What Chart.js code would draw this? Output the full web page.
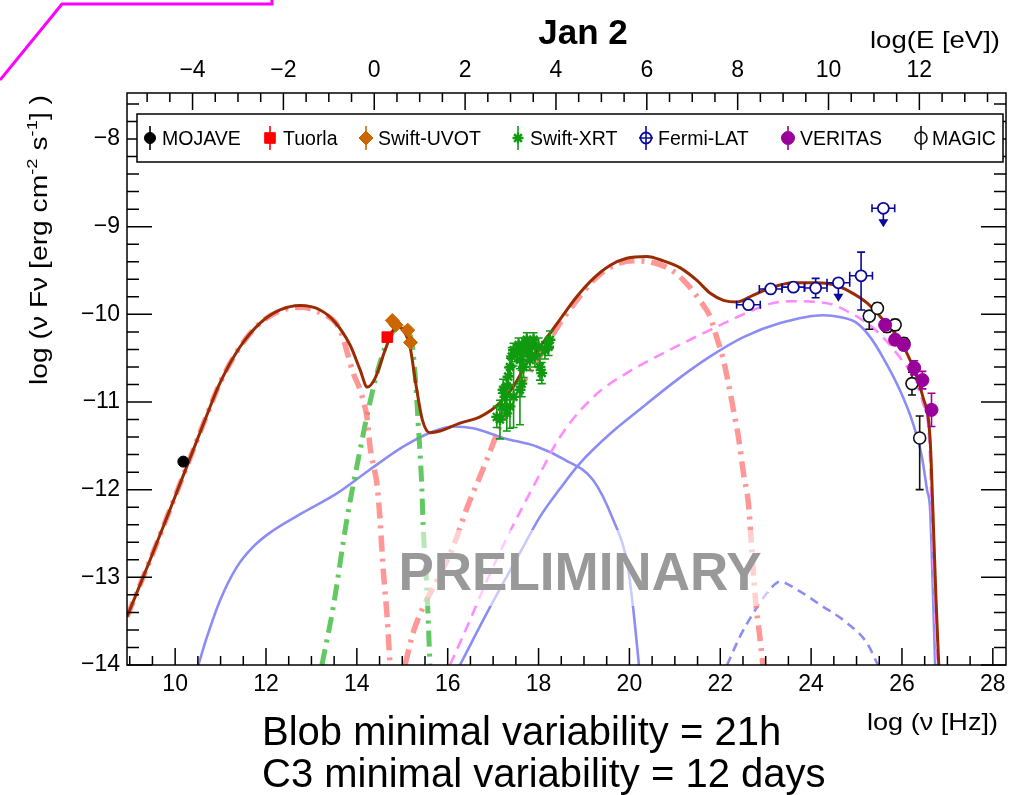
<!DOCTYPE html>
<html>
<head>
<meta charset="utf-8">
<script src="https://cdn.jsdelivr.net/npm/chart.js@4/dist/chart.umd.min.js"></script>
<style>
  html, body { margin: 0; padding: 0; background: #fff; }
</style>
</head>
<body>
<canvas id="sed" width="1017" height="795" style="width:1017px;height:795px"></canvas>
<script>
// axis ranges: log(nu [Hz]) and log(nu F nu)
const xMin = 8.94, xMax = 28.29, yMin = -14, yMax = -7.475;
const hzPerEv = 14.383;   // log(nu) = log(E[eV]) + 14.383
const xTicks = [10, 12, 14, 16, 18, 20, 22, 24, 26, 28];
const eTicks = [-4, -2, 0, 2, 4, 6, 8, 10, 12];
const yTicks = [-14, -13, -12, -11, -10, -9, -8];

// ---- measured points ----
const mojaveX = [10.18];
const mojaveY = [-11.68];
const mojaveErr = [0.02];

const tuorlaX = [14.67];
const tuorlaY = [-10.26];
const tuorlaErr = [0.03];

const uvotX = [14.78, 14.86, 15.12, 15.18];
const uvotY = [-10.07, -10.12, -10.18, -10.32];
const uvotErr = [0.03, 0.03, 0.03, 0.03];

const xrtX = [17.08, 17.15, 17.19, 17.22, 17.26, 17.30, 17.30, 17.33, 17.37, 17.37, 17.41, 17.45, 17.45, 17.52, 17.56, 17.59, 17.59,
  17.63, 17.63, 17.67, 17.70, 17.74, 17.78, 17.81, 17.85, 17.89, 17.92, 18.00, 18.03, 18.07, 18.14, 18.22, 18.25];
const xrtY = [-11.17, -11.20, -11.05, -10.86, -10.94, -10.82, -11.13, -10.71, -10.60, -11.05, -10.48, -10.41, -10.94, -10.44, -10.35, -10.52, -10.86,
  -10.41, -10.79, -10.60, -10.37, -10.29, -10.44, -10.52, -10.37, -10.29, -10.48, -10.37, -10.60, -10.67, -10.41, -10.37, -10.29];
const xrtErr = [0.12, 0.22, 0.15, 0.12, 0.14, 0.1, 0.2, 0.1, 0.1, 0.25, 0.1, 0.08, 0.35, 0.1, 0.08, 0.1, 0.4,
  0.1, 0.15, 0.12, 0.1, 0.08, 0.1, 0.12, 0.1, 0.08, 0.12, 0.1, 0.15, 0.12, 0.1, 0.1, 0.1];

const fermiX = [22.62, 23.11, 23.61, 24.10, 24.60, 25.10, 25.59];
const fermiY = [-9.89, -9.71, -9.69, -9.70, -9.64, -9.56, -8.79];
const fermiXErr = [0.26, 0.25, 0.25, 0.25, 0.25, 0.25, 0.25];
const fermiLo = [0.02, 0.03, 0.03, 0.11, 0, 0.39, 0];
const fermiHi = [0.02, 0.03, 0.03, 0.11, 0, 0.27, 0];
const fermiUL = [false, false, false, false, true, false, true];

const veritasX = [25.63, 25.85, 26.04, 26.27, 26.45, 26.65];
const veritasY = [-10.12, -10.29, -10.35, -10.61, -10.75, -11.09];
const veritasErr = [0.06, 0.06, 0.06, 0.08, 0.1, 0.19];

const magicX = [25.28, 25.46, 25.67, 25.85, 26.04, 26.22, 26.39];
const magicY = [-10.02, -9.93, -10.14, -10.12, -10.33, -10.79, -11.41];
const magicLo = [0.15, 0.06, 0.06, 0.06, 0.06, 0.13, 0.59];
const magicHi = [0.06, 0.06, 0.06, 0.06, 0.06, 0.13, 0.25];

// ---- model curves ----
const totalX = [8.94, 9.45, 10.02, 10.66, 10.99, 11.43, 11.87, 12.31, 12.75, 13.19, 13.52, 13.85, 14.07, 14.23, 14.40, 14.62, 14.78, 14.89,
  15.02, 15.17, 15.30, 15.44, 15.61, 15.83, 16.27, 16.71, 17.15, 17.45, 17.74, 18.03, 18.47, 18.84, 19.21, 19.58, 19.94, 20.38, 20.75,
  21.12, 21.48, 21.78, 22.07, 22.36, 22.73, 23.10, 23.60, 24.13, 24.48, 24.85, 25.23, 25.58, 25.95, 26.24, 26.46, 26.62, 26.68, 26.75, 26.81];
const totalY = [-13.45, -12.80, -12.05, -11.20, -10.78, -10.37, -10.10, -9.95, -9.90, -9.95, -10.09, -10.35, -10.63, -10.83, -10.73, -10.41, -10.20, -10.14,
  -10.18, -10.37, -10.80, -11.20, -11.35, -11.33, -11.24, -11.17, -11.01, -10.82, -10.56, -10.37, -10.06, -9.80, -9.59, -9.44, -9.36, -9.34, -9.39,
  -9.47, -9.61, -9.76, -9.84, -9.86, -9.78, -9.70, -9.64, -9.64, -9.66, -9.74, -9.87, -10.06, -10.29, -10.60, -10.94, -11.43, -12.23, -13.26, -14.0];

const syncX = [8.94, 9.45, 10.02, 10.66, 10.99, 11.43, 11.87, 12.31, 12.75, 13.19, 13.63, 13.92, 14.07, 14.18, 14.23, 14.29, 14.45, 14.51, 14.58, 14.67, 14.73];
const syncY = [-13.45, -12.80, -12.05, -11.20, -10.78, -10.37, -10.10, -9.96, -9.92, -9.98, -10.18, -10.67, -10.86, -11.06, -11.20, -11.51, -11.97, -12.34, -12.91, -13.48, -14.0];

const diskX = [13.23, 13.48, 13.78, 14.07, 14.29, 14.51, 14.73, 14.95, 15.10, 15.21, 15.28, 15.35, 15.43, 15.46, 15.54, 15.61];
const diskY = [-14.0, -13.34, -12.34, -11.55, -11.0, -10.55, -10.25, -10.15, -10.18, -10.32, -10.67, -11.24, -11.97, -12.42, -13.11, -14.0];

const sscX = [15.06, 15.24, 15.46, 15.77, 16.12, 16.43, 16.71, 16.86, 17.15, 17.45, 17.74, 18.03, 18.47, 18.84, 19.21, 19.58, 20.09, 20.60,
  20.97, 21.26, 21.55, 21.78, 21.92, 22.07, 22.18, 22.29, 22.40, 22.51, 22.62, 22.69, 22.77, 22.88, 22.94];
const sscY = [-14.0, -13.63, -13.34, -13.03, -12.65, -12.20, -11.85, -11.66, -11.28, -10.98, -10.71, -10.48, -10.10, -9.84, -9.61, -9.46, -9.39, -9.42,
  -9.51, -9.65, -9.84, -10.03, -10.26, -10.52, -10.79, -11.09, -11.40, -11.81, -12.16, -12.65, -13.22, -13.72, -14.0];

const ecX = [16.05, 16.43, 16.87, 17.31, 17.96, 18.47, 19.21, 19.94, 20.68, 21.41, 21.85, 22.29, 22.73, 23.17, 23.60, 24.13, 24.48,
  24.85, 25.23, 25.58, 25.95, 26.24, 26.46, 26.60, 26.66, 26.72, 26.77];
const ecY = [-14.0, -13.56, -13.03, -12.54, -11.89, -11.40, -10.94, -10.67, -10.46, -10.27, -10.16, -10.05, -9.95, -9.87, -9.85, -9.86, -9.89,
  -9.98, -10.10, -10.26, -10.49, -10.71, -11.01, -11.43, -12.34, -13.26, -14.0];

const c3SynX = [10.51, 10.70, 10.99, 11.36, 11.72, 12.09, 12.82, 13.57, 14.29, 15.02, 15.61, 16.12, 16.56, 17.22, 17.97, 18.58, 19.20, 19.64, 19.95, 20.08, 20.21];
const c3SynY = [-14.0, -13.68, -13.26, -12.88, -12.65, -12.49, -12.26, -12.04, -11.77, -11.51, -11.35, -11.28, -11.30, -11.41, -11.51, -11.66, -11.89, -12.34, -12.83, -13.34, -14.0];

const c3IcX = [16.27, 16.87, 17.59, 18.03, 18.47, 18.91, 19.58, 20.31, 21.04, 21.78, 22.51, 23.32, 24.26, 24.63, 25.01,
  25.30, 25.58, 25.95, 26.24, 26.44, 26.55, 26.62, 26.68, 26.73];
const c3IcY = [-14.0, -13.40, -12.72, -12.31, -11.99, -11.70, -11.36, -11.05, -10.75, -10.48, -10.26, -10.10, -10.01, -10.03, -10.10,
  -10.26, -10.49, -10.86, -11.24, -11.63, -12.00, -12.23, -13.14, -14.0];

const c3EcX = [22.15, 22.43, 22.81, 23.14, 23.31, 23.69, 24.19, 24.79, 25.23, 25.47];
const c3EcY = [-14.0, -13.68, -13.34, -13.11, -13.05, -13.14, -13.31, -13.52, -13.75, -14.0];

// legend layout (marker x, text x) in pixels
const legendMarkX = [150, 270, 366, 518, 646, 788, 921];
const legendTextX = [162, 283, 378, 530, 658, 800, 932];

function pts(xs, ys) {
  return xs.map(function (x, i) { return { x: x, y: ys[i] }; });
}
function fmt(v) {
  return v < 0 ? '\u2212' + (-v) : String(v);
}

var FONT = '"Liberation Sans", Arial, Helvetica, sans-serif';
var dashDot = [16, 7, 3, 7];

function curve(label, xs, ys, color, width, dash, order) {
  return {
    label: label, data: pts(xs, ys), showLine: true, borderColor: color, borderWidth: width,
    borderDash: dash || [], pointRadius: 0, fill: false, cubicInterpolationMode: 'monotone', order: order
  };
}

var datasets = [
  { label: 'MOJAVE', data: pts(mojaveX, mojaveY), pointStyle: 'circle', pointRadius: 5.5, backgroundColor: '#000', borderColor: '#000',
    borderWidth: 1, yLo: mojaveErr, yHi: mojaveErr, legend: 0, order: 0 },
  { label: 'Tuorla', data: pts(tuorlaX, tuorlaY), pointStyle: 'rect', pointRadius: 7.5, backgroundColor: '#ff0000', borderColor: '#ff0000',
    borderWidth: 1, yLo: tuorlaErr, yHi: tuorlaErr, legend: 1, order: 0 },
  { label: 'Swift-UVOT', data: pts(uvotX, uvotY), pointStyle: 'rectRot', pointRadius: 7, backgroundColor: '#cc6600', borderColor: '#cc6600',
    borderWidth: 1, yLo: uvotErr, yHi: uvotErr, legend: 2, order: 0 },
  { label: 'Swift-XRT', data: pts(xrtX, xrtY), pointStyle: 'star', pointRadius: 5.5, backgroundColor: '#109a10', borderColor: '#109a10',
    borderWidth: 2.4, yLo: xrtErr, yHi: xrtErr, xErr: xrtX.map(function () { return 0.03; }), legend: 3, order: 0 },
  { label: 'Fermi-LAT', data: pts(fermiX, fermiY), pointStyle: 'circle', pointRadius: 5.5, backgroundColor: '#fff', borderColor: '#0a0a9a',
    borderWidth: 1.8, yLo: fermiLo, yHi: fermiHi, xErr: fermiXErr, ul: fermiUL, legend: 4, open: true, order: 0 },
  { label: 'VERITAS', data: pts(veritasX, veritasY), pointStyle: 'circle', pointRadius: 6.5, backgroundColor: '#990099', borderColor: '#990099',
    borderWidth: 1, yLo: veritasErr, yHi: veritasErr, legend: 5, order: 0 },
  { label: 'MAGIC', data: pts(magicX, magicY), pointStyle: 'circle', pointRadius: 6, backgroundColor: '#fff', borderColor: '#111',
    borderWidth: 1.6, yLo: magicLo, yHi: magicHi, legend: 6, open: true, order: 0 },
  curve('Total', totalX, totalY, '#9a2c04', 3, null, 1),
  curve('Blob synchrotron', syncX, syncY, 'rgba(255,125,125,0.8)', 5.5, dashDot, 2),
  curve('Disk', diskX, diskY, 'rgba(70,190,70,0.85)', 5, dashDot, 2),
  curve('Blob SSC', sscX, sscY, 'rgba(255,125,125,0.8)', 5.5, dashDot, 2),
  curve('Blob EC', ecX, ecY, '#ff8cff', 2.6, [11, 7], 2),
  curve('C3 synchrotron', c3SynX, c3SynY, '#8c8cf5', 2.6, null, 3),
  curve('C3 SSC', c3IcX, c3IcY, '#8c8cf5', 2.6, null, 3),
  curve('C3 EC', c3EcX, c3EcY, '#8c8cf5', 2.6, [9, 6], 3)
];

// error bars and upper-limit arrows, drawn just before each point set
const errorBars = {
  id: 'errorBars',
  beforeDatasetDraw(chart, args) {
    var ds = chart.data.datasets[args.index];
    if (!ds.yLo) return;
    var ctx = chart.ctx, sx = chart.scales.x, sy = chart.scales.y;
    ctx.save();
    ctx.strokeStyle = ds.borderColor;
    ctx.fillStyle = ctx.strokeStyle;
    ctx.lineWidth = 1.6;
    ds.data.forEach(function (p, i) {
      var px = sx.getPixelForValue(p.x), py = sy.getPixelForValue(p.y);
      ctx.beginPath();
      if (ds.yLo[i] || ds.yHi[i]) {
        var top = sy.getPixelForValue(p.y + ds.yHi[i]), bot = sy.getPixelForValue(p.y - ds.yLo[i]);
        ctx.moveTo(px, top); ctx.lineTo(px, bot);
        ctx.moveTo(px - 4, top); ctx.lineTo(px + 4, top);
        ctx.moveTo(px - 4, bot); ctx.lineTo(px + 4, bot);
      }
      if (ds.xErr && ds.xErr[i]) {
        var l = sx.getPixelForValue(p.x - ds.xErr[i]), r = sx.getPixelForValue(p.x + ds.xErr[i]);
        ctx.moveTo(l, py); ctx.lineTo(r, py);
        if (ds.xErr[i] > 0.1) {
          ctx.moveTo(l, py - 4); ctx.lineTo(l, py + 4);
          ctx.moveTo(r, py - 4); ctx.lineTo(r, py + 4);
        }
      }
      ctx.stroke();
      if (ds.ul && ds.ul[i]) {
        ctx.beginPath();
        ctx.moveTo(px, py); ctx.lineTo(px, py + 12);
        ctx.stroke();
        ctx.beginPath();
        ctx.moveTo(px - 5, py + 11); ctx.lineTo(px + 5, py + 11); ctx.lineTo(px, py + 19);
        ctx.closePath(); ctx.fill();
      }
    });
    ctx.restore();
  }
};

// ROOT-like frame with inward ticks on all four sides
const frameTicks = {
  id: 'frameTicks',
  afterDatasetsDraw(chart) {
    var ctx = chart.ctx, a = chart.chartArea, sx = chart.scales.x, sy = chart.scales.y;
    ctx.save();
    // PRELIMINARY watermark
    ctx.fillStyle = 'rgba(255,255,255,0.55)';
    ctx.fillRect(392, 530, 376, 76);
    ctx.fillStyle = '#999999';
    ctx.font = 'bold 53px ' + FONT;
    ctx.textAlign = 'center';
    ctx.textBaseline = 'alphabetic';
    ctx.fillText('PRELIMINARY', 580, 590);

    ctx.strokeStyle = '#000';
    ctx.lineWidth = 1.5;
    ctx.strokeRect(a.left, a.top, a.right - a.left, a.bottom - a.top);
    ctx.beginPath();
    var k, px, py, len;
    for (k = Math.ceil(xMin * 2); k / 2 <= xMax; k++) {
      px = sx.getPixelForValue(k / 2); len = (k % 4 === 0) ? 17 : 9;
      ctx.moveTo(px, a.bottom); ctx.lineTo(px, a.bottom - len);
    }
    for (k = Math.ceil((xMin - hzPerEv) * 2); k / 2 <= xMax - hzPerEv; k++) {
      px = sx.getPixelForValue(k / 2 + hzPerEv); len = (k % 4 === 0) ? 17 : 9;
      ctx.moveTo(px, a.top); ctx.lineTo(px, a.top + len);
    }
    for (k = Math.ceil(yMin * 5); k / 5 <= yMax; k++) {
      py = sy.getPixelForValue(k / 5); len = (k % 5 === 0) ? 25 : 12;
      ctx.moveTo(a.left, py); ctx.lineTo(a.left + len, py);
      ctx.moveTo(a.right, py); ctx.lineTo(a.right - len, py);
    }
    ctx.stroke();
    ctx.restore();
  }
};

function fitText(ctx, str, x, y, font, width, align) {
  ctx.save();
  ctx.font = font;
  var w = ctx.measureText(str).width;
  var s = width ? width / w : 1;
  ctx.translate(x, y);
  ctx.scale(s, 1);
  ctx.textAlign = align || 'left';
  ctx.fillText(str, 0, 0);
  ctx.restore();
}

const decorations = {
  id: 'decorations',
  afterDraw(chart) {
    var ctx = chart.ctx;
    ctx.save();
    ctx.textBaseline = 'alphabetic';

    // legend box
    ctx.fillStyle = '#fff';
    ctx.fillRect(137, 114, 866, 48);
    ctx.strokeStyle = '#000'; ctx.lineWidth = 1.5;
    ctx.strokeRect(137, 114, 866, 48);
    chart.data.datasets.forEach(function (ds) {
      if (ds.legend === undefined) return;
      var mx = legendMarkX[ds.legend], my = 138;
      ctx.strokeStyle = ds.borderColor; ctx.lineWidth = 1.6;
      ctx.beginPath(); ctx.moveTo(mx, my - 12); ctx.lineTo(mx, my + 12);
      if (ds.xErr && ds.open) { ctx.moveTo(mx - 7, my); ctx.lineTo(mx + 7, my); }
      ctx.stroke();
      ctx.fillStyle = ds.open ? 'rgba(0,0,0,0)' : ds.backgroundColor;
      ctx.strokeStyle = ds.borderColor; ctx.lineWidth = ds.borderWidth;
      if (Chart.helpers && Chart.helpers.drawPoint) {
        Chart.helpers.drawPoint(ctx, { pointStyle: ds.pointStyle, radius: ds.pointRadius, rotation: 0, borderWidth: ds.borderWidth }, mx, my);
      } else {
        ctx.beginPath(); ctx.arc(mx, my, ds.pointRadius, 0, Math.PI * 2); ctx.fill(); ctx.stroke();
      }
      ctx.fillStyle = '#000';
      ctx.font = '19.5px ' + FONT;
      ctx.textAlign = 'left';
      ctx.fillText(ds.label, legendTextX[ds.legend], 145);
    });

    ctx.fillStyle = '#000';
    // title and axis titles
    fitText(ctx, 'Jan 2', 583, 44, 'bold 35px ' + FONT, 0, 'center');
    fitText(ctx, 'log(E [eV])', 1000, 48, '24px ' + FONT, 130, 'right');
    fitText(ctx, 'log (\u03bd [Hz])', 998, 730, '24px ' + FONT, 131, 'right');

    // rotated y title with superscripts
    var parts = [['log (\u03bd F\u03bd [erg cm', 0], ['-2', 1], [' s', 0], ['-1', 1], ['] )', 0]];
    var big = '23px ' + FONT, small = '15px ' + FONT, total = 0;
    parts.forEach(function (p) { ctx.font = p[1] ? small : big; total += ctx.measureText(p[0]).width; });
    ctx.save();
    ctx.translate(47, 385);
    ctx.rotate(-Math.PI / 2);
    ctx.scale(290 / total, 1);
    var cx = 0;
    parts.forEach(function (p) {
      ctx.font = p[1] ? small : big;
      ctx.fillText(p[0], cx, p[1] ? -10 : 0);
      cx += ctx.measureText(p[0]).width;
    });
    ctx.restore();

    // notes under the plot
    ctx.font = '40px ' + FONT;
    ctx.textAlign = 'left';
    ctx.fillText('Blob minimal variability = 21h', 262, 745);
    ctx.fillText('C3 minimal variability = 12 days', 262, 787);

    // magenta slide-annotation remnant
    ctx.strokeStyle = '#ff00ff'; ctx.lineWidth = 3;
    ctx.beginPath();
    ctx.moveTo(0, 80); ctx.lineTo(62, 4); ctx.lineTo(272, 4); ctx.lineTo(272, 0);
    ctx.stroke();
    ctx.restore();
  }
};

var tickFont = { family: FONT, size: 23 };

new Chart(document.getElementById('sed'), {
  type: 'scatter',
  data: { datasets: datasets },
  options: {
    responsive: false,
    devicePixelRatio: 1,
    animation: false,
    layout: { padding: { left: 0, top: 0, right: 11, bottom: 0 } },
    plugins: { legend: { display: false }, tooltip: { enabled: false } },
    scales: {
      x: {
        type: 'linear', position: 'bottom', min: xMin, max: xMax,
        grid: { display: false, drawTicks: false }, border: { display: false },
        ticks: { font: tickFont, color: '#000', padding: 6, maxRotation: 0, autoSkip: false, callback: fmt },
        afterBuildTicks: function (s) { s.ticks = xTicks.map(function (v) { return { value: v }; }); },
        afterFit: function (s) { s.height = 130; }
      },
      x2: {
        type: 'linear', position: 'top', min: xMin - hzPerEv, max: xMax - hzPerEv,
        grid: { display: false, drawTicks: false }, border: { display: false },
        ticks: { font: tickFont, color: '#000', padding: 9, maxRotation: 0, autoSkip: false, callback: fmt },
        afterBuildTicks: function (s) { s.ticks = eTicks.map(function (v) { return { value: v }; }); },
        afterFit: function (s) { s.height = 93; }
      },
      y: {
        type: 'linear', position: 'left', min: yMin, max: yMax,
        grid: { display: false, drawTicks: false }, border: { display: false },
        ticks: { font: tickFont, color: '#000', padding: 7, autoSkip: false, callback: fmt },
        afterBuildTicks: function (s) { s.ticks = yTicks.map(function (v) { return { value: v }; }); },
        afterFit: function (s) { s.width = 127; }
      }
    }
  },
  plugins: [errorBars, frameTicks, decorations]
});
</script>
</body>
</html>
